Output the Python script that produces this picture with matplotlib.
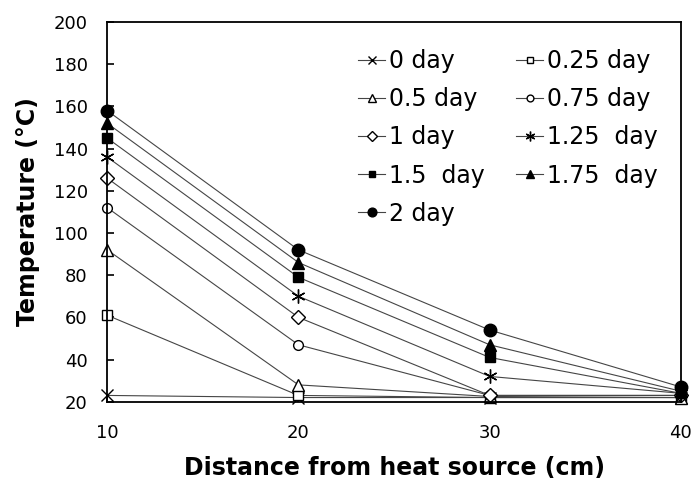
import matplotlib.pyplot as plt
import numpy as np

# Distance from heat source (cm)
distance = [10, 20, 30, 40]

# Temperature (°C) for each heating time
t_0 = [23, 22, 22, 22]
t_025 = [61, 23, 22, 22]
t_05 = [92, 28, 22.5, 22]
t_075 = [112, 47, 23, 23]
t_1 = [126, 60, 23, 23]
t_125 = [136, 70, 32, 24]
t_15 = [145, 79, 41, 24]
t_175 = [152, 86, 47, 25]
t_2 = [158, 92, 54, 27]

labels = ['0 day', '0.25 day', '0.5 day', '0.75 day', '1 day',
          '1.25  day', '1.5  day', '1.75  day', '2 day']

fig = plt.figure(figsize=(6.92, 4.8), dpi=100)
ax = fig.add_axes([0.155, 0.163, 0.829, 0.791])

line_kw = dict(color='#454545', linewidth=0.8, markeredgecolor='black', markeredgewidth=1.0)
asterisk = (6, 2, 0)

h0, = ax.plot(distance, t_0, marker='x', markersize=8, label=labels[0], **line_kw)
h1, = ax.plot(distance, t_025, marker='s', markersize=7, markerfacecolor='white', label=labels[1], **line_kw)
h2, = ax.plot(distance, t_05, marker='^', markersize=8, markerfacecolor='white', label=labels[2], **line_kw)
h3, = ax.plot(distance, t_075, marker='o', markersize=7, markerfacecolor='white', label=labels[3], **line_kw)
h4, = ax.plot(distance, t_1, marker='D', markersize=7, markerfacecolor='white', label=labels[4], **line_kw)
h5, = ax.plot(distance, t_125, marker=asterisk, markersize=10, label=labels[5], **line_kw)
h6, = ax.plot(distance, t_15, marker='s', markersize=7, markerfacecolor='black', label=labels[6], **line_kw)
h7, = ax.plot(distance, t_175, marker='^', markersize=8, markerfacecolor='black', label=labels[7], **line_kw)
h8, = ax.plot(distance, t_2, marker='o', markersize=9, markerfacecolor='black', label=labels[8], **line_kw)

for h in [h0, h1, h2, h3, h4, h5, h6, h7, h8]:
    h.set_clip_on(False)

ax.set_xlim(10, 40)
ax.set_ylim(20, 200)
ax.set_xticks([10, 20, 30, 40])
ax.set_yticks(np.arange(20, 201, 20))
ax.tick_params(direction='in', length=5, width=1.2, labelsize=13)
ax.tick_params(axis='x', pad=16)
ax.tick_params(axis='y', pad=14)
for s in ax.spines.values():
    s.set_linewidth(1.3)

ax.set_xlabel('Distance from heat source (cm)', fontsize=17, fontweight='bold', labelpad=10)
ax.set_ylabel('Temperature (°C)', fontsize=17, fontweight='bold', labelpad=10)

handles = [h0, h2, h4, h6, h8, h1, h3, h5, h7]
ax.legend(handles, [h.get_label() for h in handles], ncol=2, frameon=False,
          fontsize=17, markerscale=0.7, handlelength=1.15, handletextpad=0.15,
          columnspacing=1.35, labelspacing=0.6, loc='upper left',
          bbox_to_anchor=(0.4, 0.985))

plt.savefig('out.png', dpi=100)
